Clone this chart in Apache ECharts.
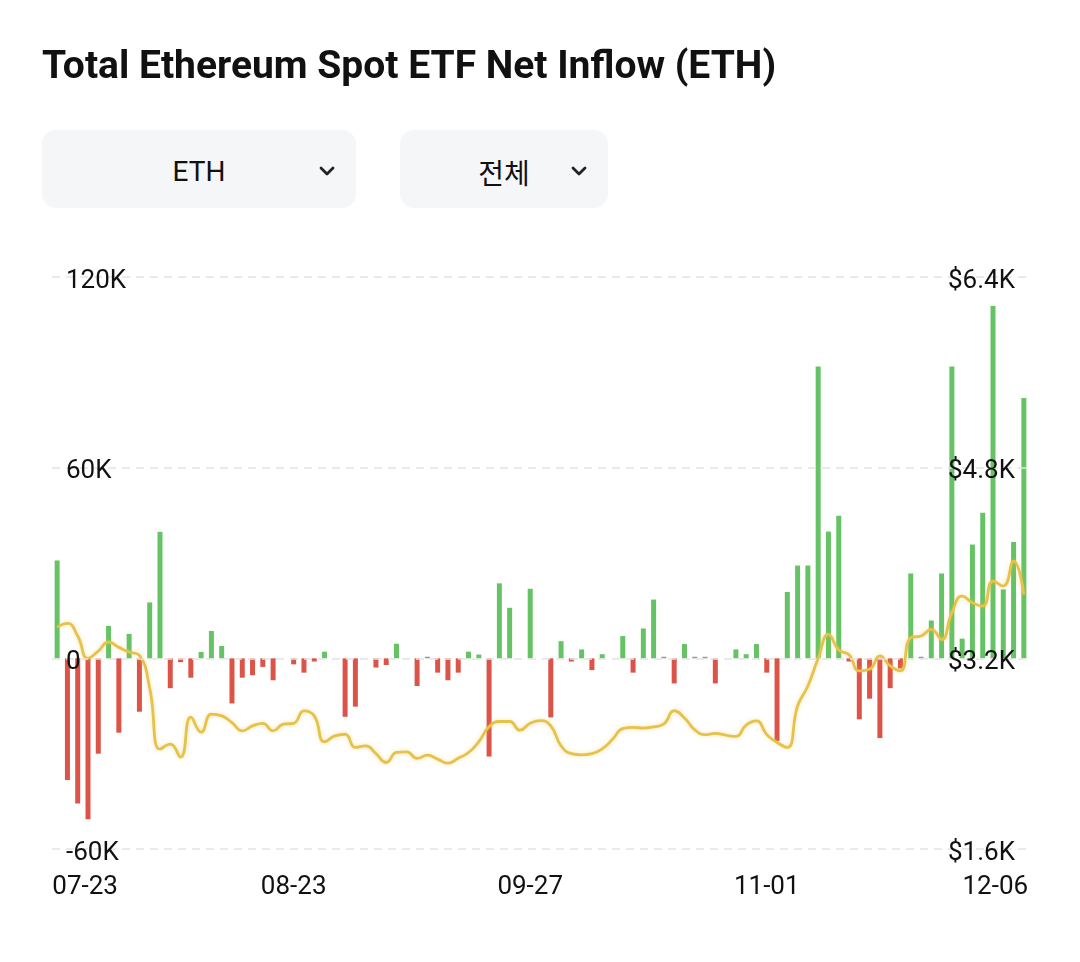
<!DOCTYPE html>
<html>
<head>
<meta charset="utf-8">
<script src="https://cdn.jsdelivr.net/npm/echarts@6/dist/echarts.min.js"></script>
<style>
  html, body { margin:0; padding:0; background:#fff; width:1080px; height:962px; overflow:hidden; font-family: Roboto, "Noto Sans CJK KR", sans-serif; }
  #chart { position:absolute; left:0; top:0; width:1080px; height:962px; }
  .title { position:absolute; left:42px; top:46px; font-size:39px; line-height:39px; font-weight:700; color:#111; white-space:nowrap; z-index:2; }
  .dd { position:absolute; top:130px; height:78px; background:#f5f6f8; border-radius:14px; z-index:2; }
  .dd .t { position:absolute; top:3px; height:78px; line-height:78px; font-size:28px; color:#111; text-align:center; }
  .dd svg { position:absolute; top:34px; }
</style>
</head>
<body>
<div id="chart"></div>
<div class="title">Total Ethereum Spot ETF Net Inflow (ETH)</div>
<div class="dd" style="left:42px; width:314px;">
  <div class="t" style="left:0; width:314px;">ETH</div>
  <svg style="left:276px;" width="18" height="14" viewBox="0 0 18 14"><polyline points="3,4 9,10 15,4" fill="none" stroke="#222" stroke-width="2.8" stroke-linecap="round" stroke-linejoin="round"/></svg>
</div>
<div class="dd" style="left:400px; width:208px;">
  <div class="t" style="left:0; width:208px; font-family:'Noto Sans CJK KR', sans-serif;">전체</div>
  <svg style="left:170px;" width="18" height="14" viewBox="0 0 18 14"><polyline points="3,4 9,10 15,4" fill="none" stroke="#222" stroke-width="2.8" stroke-linecap="round" stroke-linejoin="round"/></svg>
</div>
<script>
const dates = ['07-23','07-24','07-25','07-26','07-29','07-30','07-31','08-01','08-02','08-05',
'08-06','08-07','08-08','08-09','08-12','08-13','08-14','08-15','08-16','08-19',
'08-20','08-21','08-22','08-23','08-26','08-27','08-28','08-29','08-30','09-04',
'09-05','09-06','09-09','09-10','09-11','09-12','09-13','09-16','09-17','09-18',
'09-19','09-20','09-23','09-24','09-25','09-26','09-27','09-30','10-01','10-02',
'10-03','10-04','10-07','10-08','10-09','10-10','10-11','10-15','10-16','10-17',
'10-18','10-21','10-22','10-23','10-24','10-28','10-29','10-30','10-31','11-01',
'11-04','11-05','11-06','11-07','11-08','11-12','11-13','11-14','11-15','11-18',
'11-19','11-20','11-21','11-22','11-25','11-26','11-27','11-29','12-02','12-03',
'12-04','12-05','12-06','12-09','12-10'];

// net inflow, thousands of ETH
const netInflowK = [30.8,-38.3,-45.7,-50.6,-30,10.2,-23.4,7.7,-16.8,17.6,
39.8,-9.4,-1.2,-6.1,2,8.6,3.9,-14.2,-6.1,-5.3,
-2.7,-6.9,0,-1.9,-4.5,-1,2.1,0,-18.4,-15.2,
0,-2.9,-2.1,4.6,0,-8.7,0.5,-4.5,-6.9,-4.5,
2.1,1.2,-30.9,23.6,15.9,0,21.9,0,-18.6,5.4,
-1,2.8,-3.7,1.3,0,7,-4.5,9.4,18.5,0.5,
-7.9,4.5,0.5,0.5,-7.9,0,2.8,1.3,4.5,-4.5,
-26,20.9,29.2,29.2,91.8,39.9,44.9,-1,-19.2,-12.7,
-25.1,-9.4,-3.2,26.7,0.5,11.9,26.7,91.8,6.2,35.8,
45.8,110.9,21.7,36.6,81.9];

// ETH price, USD
const ethPrice = [3462,3493,3387,3200,3261,3337,3292,3253,3225,2950,
2438,2480,2371,2706,2580,2731,2717,2660,2591,2633,
2655,2591,2647,2655,2759,2717,2500,2549,2563,2452,
2466,2400,2326,2410,2415,2360,2387,2354,2320,2362,
2410,2500,2625,2670,2670,2597,2655,2678,2633,2466,
2400,2390,2400,2440,2520,2610,2620,2615,2625,2650,
2760,2700,2600,2560,2570,2555,2545,2640,2675,2560,
2494,2452,2800,2968,3200,3401,3270,3230,3094,3108,
3220,3136,3094,3373,3387,3443,3359,3583,3722,3666,
3638,3848,3806,4015,3736];

const leftTicks = { min: -60, max: 120, interval: 60 };
const rightTicks = { min: 1600, max: 6400, interval: 1600 };

const GREEN = '#66c365', RED = '#db5447', GRAY = '#9a9a9a', GOLD = '#e6c24a';

const yRich = { v: { fontSize: 26, fontFamily: 'Roboto', color: '#111', padding: [8, 0, 0, 0] } };

const chart = echarts.init(document.getElementById('chart'));
chart.setOption({
  animation: false,
  grid: { left: 52, right: 51, top: 277, bottom: 113, containLabel: false },
  xAxis: {
    type: 'category',
    data: dates,
    boundaryGap: true,
    axisLine: { show: false },
    axisTick: { show: false },
    splitLine: { show: false },
    axisLabel: {
      interval: 22,
      margin: 25,
      fontSize: 26,
      color: '#111',
      fontFamily: 'Roboto',
      formatter: function (v, idx) {
        if (idx === 0) return '{a|' + v + '}';
        if (idx === 92) return '{b|' + v + '}';
        return v;
      },
      rich: {
        a: { fontSize: 26, fontFamily: 'Roboto', color: '#111', padding: [0, 0, 0, 56] },
        b: { fontSize: 26, fontFamily: 'Roboto', color: '#111', padding: [0, 16, 0, 0] }
      }
    }
  },
  yAxis: [
    {
      type: 'value',
      min: leftTicks.min, max: leftTicks.max, interval: leftTicks.interval,
      position: 'left',
      z: 10,
      axisLine: { show: false },
      axisTick: { show: false },
      splitLine: { show: true, lineStyle: { color: '#e4e4e4', type: [8, 6], width: 1.5 } },
      axisLabel: {
        inside: true, margin: 14, fontSize: 26, color: '#111', fontFamily: 'Roboto',
        formatter: v => '{v|' + (v === 0 ? '0' : v + 'K') + '}',
        rich: yRich
      }
    },
    {
      type: 'value',
      min: rightTicks.min, max: rightTicks.max, interval: rightTicks.interval,
      position: 'right',
      z: 10,
      axisLine: { show: false },
      axisTick: { show: false },
      splitLine: { show: false },
      axisLabel: {
        inside: true, margin: 14, fontSize: 26, color: '#111', fontFamily: 'Roboto',
        formatter: v => '{v|$' + (v / 1000).toFixed(1) + 'K}',
        rich: yRich
      }
    }
  ],
  series: [
    {
      type: 'bar',
      yAxisIndex: 0,
      data: netInflowK,
      barWidth: 5,
      z: 2,
      itemStyle: {
        color: p => Math.abs(p.value) < 0.6 ? GRAY : (p.value > 0 ? GREEN : RED)
      }
    },
    {
      type: 'line',
      yAxisIndex: 1,
      data: ethPrice,
      smooth: 0.5,
      symbol: 'none',
      z: 3,
      lineStyle: { color: GOLD, width: 2.8, shadowColor: 'rgba(230,194,74,0.45)', shadowBlur: 4 }
    }
  ]
});
</script>
</body>
</html>
